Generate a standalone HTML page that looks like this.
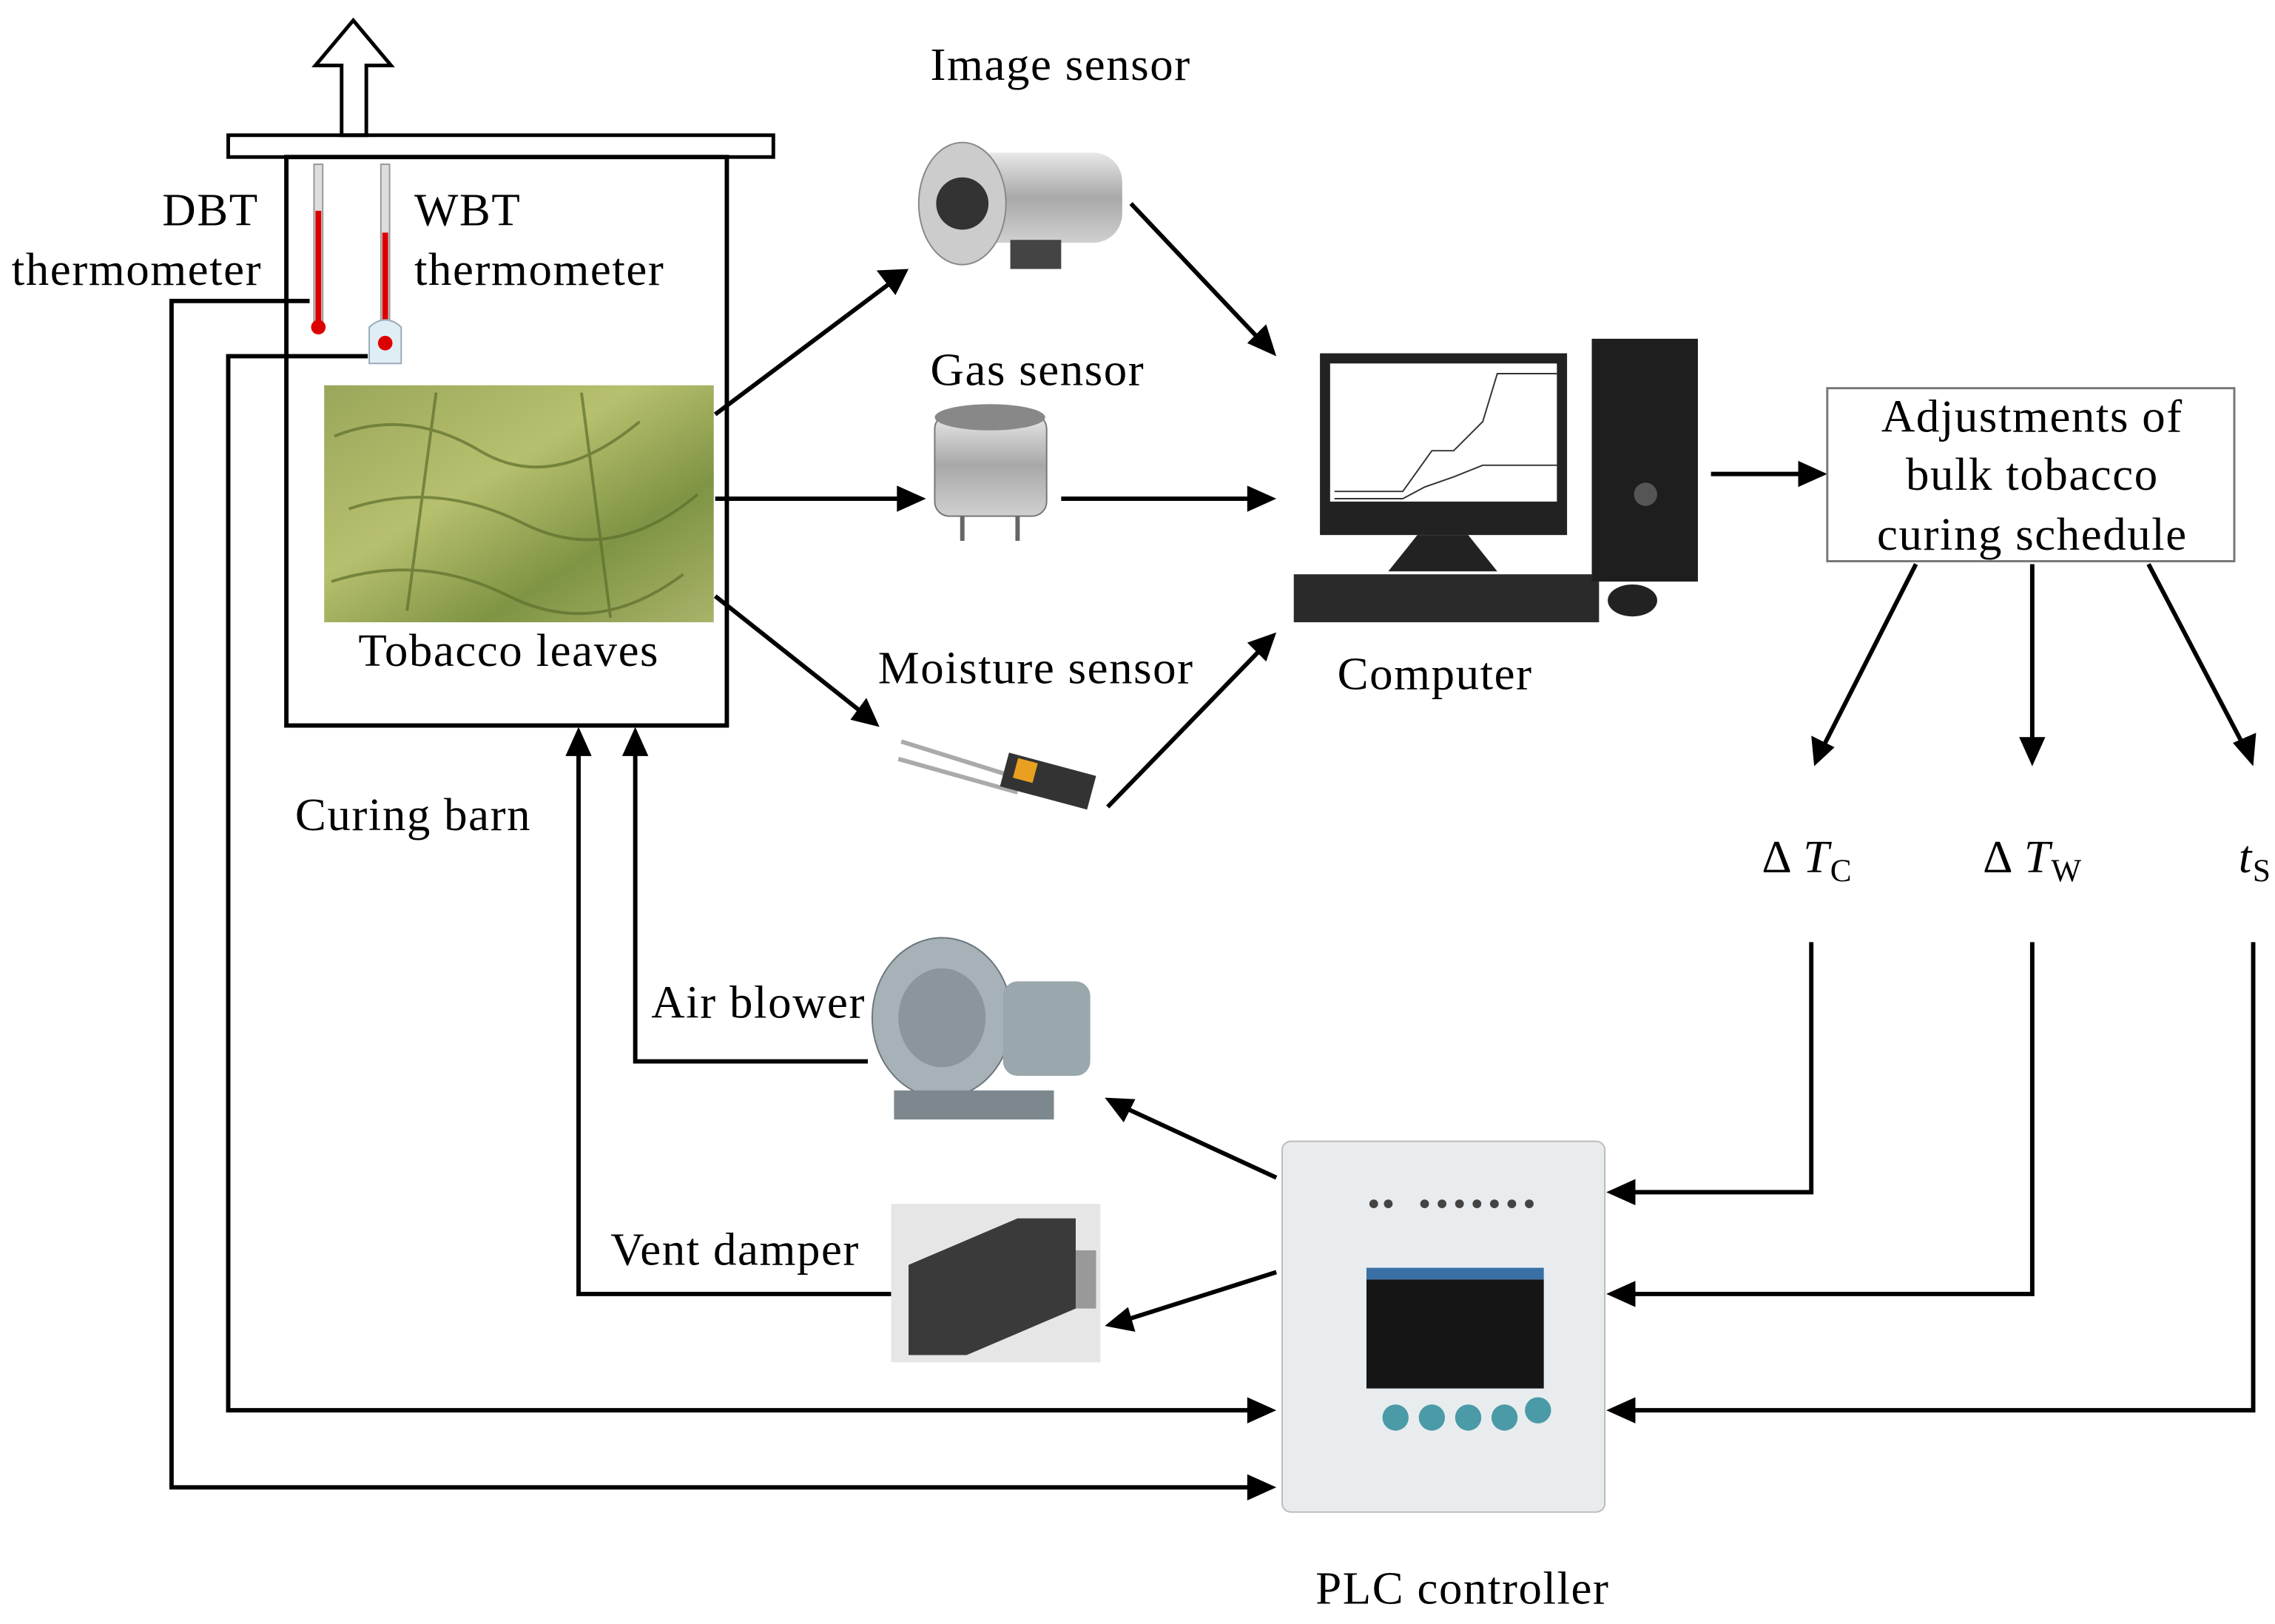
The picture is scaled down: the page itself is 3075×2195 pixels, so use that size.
<!DOCTYPE html>
<html><head><meta charset="utf-8"><style>
html,body{margin:0;padding:0;background:#fff;}
svg{display:block;}
text{font-family:"Liberation Serif",serif;font-size:32px;letter-spacing:0.8px;fill:#000;}
</style></head><body>
<svg width="3075" height="2195" viewBox="0 0 1565 1117" preserveAspectRatio="none" xmlns="http://www.w3.org/2000/svg">
<defs>
<linearGradient id="leaf" x1="0" y1="0" x2="1" y2="1">
<stop offset="0" stop-color="#9aa65a"/><stop offset="0.4" stop-color="#b7c06e"/><stop offset="0.7" stop-color="#7f9444"/><stop offset="1" stop-color="#a9b36a"/></linearGradient>
<linearGradient id="metal" x1="0" y1="0" x2="0" y2="1"><stop offset="0" stop-color="#e8e8e8"/><stop offset="0.5" stop-color="#a8a8a8"/><stop offset="1" stop-color="#d0d0d0"/></linearGradient>
</defs>
<g stroke="#000" stroke-width="3" fill="none">
<path d="M243 14 L269 45 L252 45 L252 93 L235 93 L235 45 L217 45 Z" stroke-width="2.5"/>
<rect x="157" y="93" width="375" height="15" stroke-width="2.5"/>
<rect x="197" y="108" width="303" height="391"/>
<line x1="492" y1="285" x2="612" y2="195"/>
<line x1="492" y1="343" x2="622" y2="343"/>
<line x1="492" y1="410" x2="593" y2="490"/>
<line x1="778" y1="140" x2="866" y2="233"/>
<line x1="730" y1="343" x2="864" y2="343"/>
<line x1="762" y1="555" x2="866" y2="448"/>
<line x1="1177" y1="326" x2="1243" y2="326"/>
<line x1="1318" y1="388" x2="1254" y2="514"/>
<line x1="1398" y1="388" x2="1398" y2="512"/>
<line x1="1478" y1="388" x2="1544" y2="514"/>
<polyline points="1246,648 1246,820 1120,820"/>
<polyline points="1398,648 1398,890 1120,890"/>
<polyline points="1550,648 1550,970 1120,970"/>
<line x1="878" y1="810" x2="774" y2="762"/>
<line x1="878" y1="875" x2="774" y2="908"/>
<polyline points="597,730 437,730 437,515"/>
<polyline points="613,890 398,890 398,515"/>
<polyline points="213,207 118,207 118,1023 864,1023"/>
<polyline points="253,245 157,245 157,970 864,970"/>
</g>
<g fill="#000">
<polygon points="625,185 603,186 616,203"/>
<polygon points="637,343 617,334 617,352"/>
<polygon points="605,500 596,480 585,495"/>
<polygon points="878,245 858,236 871,223"/>
<polygon points="878,343 858,334 858,352"/>
<polygon points="878,435 871,455 858,442"/>
<polygon points="1257,326 1237,317 1237,335"/>
<polygon points="1248,527 1246,506 1262,514"/>
<polygon points="1398,527 1389,507 1407,507"/>
<polygon points="1550,527 1536,511 1552,504"/>
<polygon points="1105,820 1125,811 1125,829"/>
<polygon points="1105,890 1125,881 1125,899"/>
<polygon points="1105,970 1125,961 1125,979"/>
<polygon points="760,755 781,756 773,772"/>
<polygon points="760,912 776,899 781,916"/>
<polygon points="437,500 428,520 446,520"/>
<polygon points="398,500 389,520 407,520"/>
<polygon points="878,1023 858,1014 858,1032"/>
<polygon points="878,970 858,961 858,979"/>
</g>
<rect x="216" y="113" width="6" height="108" fill="#ddd" stroke="#999"/>
<rect x="217" y="145" width="4" height="76" fill="#d00"/>
<circle cx="219" cy="225" r="5" fill="#d00"/>
<rect x="262" y="113" width="6" height="120" fill="#ddd" stroke="#999"/>
<rect x="263" y="160" width="4" height="75" fill="#d00"/>
<path d="M254 225 Q265 215 276 225 L276 250 L254 250 Z" fill="#dfeef5" stroke="#9ab"/>
<circle cx="265" cy="236" r="5" fill="#d00"/>
<rect x="223" y="265" width="268" height="163" fill="url(#leaf)"/>
<g stroke="#5d6e2c" stroke-width="2" fill="none" opacity="0.7">
<path d="M230 300 Q280 280 330 310 T440 290"/><path d="M240 350 Q300 330 360 360 T480 340"/><path d="M228 400 Q290 380 350 410 T470 395"/><path d="M300 270 L280 420"/><path d="M400 270 L420 425"/></g>
<rect x="660" y="105" width="112" height="62" rx="20" fill="url(#metal)"/>
<ellipse cx="662" cy="140" rx="30" ry="42" fill="#ccc" stroke="#888"/>
<circle cx="662" cy="140" r="18" fill="#333"/>
<rect x="695" y="165" width="35" height="20" fill="#444"/>
<rect x="643" y="285" width="77" height="70" rx="10" fill="url(#metal)" stroke="#777"/>
<ellipse cx="681" cy="287" rx="38" ry="9" fill="#888"/>
<line x1="662" y1="355" x2="662" y2="372" stroke="#666" stroke-width="3"/><line x1="700" y1="355" x2="700" y2="372" stroke="#666" stroke-width="3"/>
<line x1="620" y1="510" x2="700" y2="535" stroke="#aaa" stroke-width="3"/><line x1="618" y1="522" x2="700" y2="545" stroke="#aaa" stroke-width="3"/>
<rect x="690" y="525" width="62" height="24" fill="#333" transform="rotate(15 720 537)"/>
<rect x="697" y="527" width="14" height="14" fill="#e9a020" transform="rotate(15 720 537)"/>
<rect x="908" y="243" width="170" height="125" fill="#222"/>
<rect x="915" y="250" width="156" height="95" fill="#fff"/>
<polyline points="918,338 965,338 985,310 1000,310 1020,290 1030,257 1071,257" stroke="#333" fill="none"/>
<polyline points="918,343 965,343 980,335 1000,328 1020,320 1071,320" stroke="#333" fill="none"/>
<path d="M975 368 L1010 368 L1030 393 L955 393 Z" fill="#222"/>
<rect x="890" y="395" width="210" height="33" fill="#2a2a2a"/>
<rect x="1095" y="233" width="73" height="167" fill="#1e1e1e"/>
<circle cx="1132" cy="340" r="8" fill="#555"/>
<ellipse cx="1123" cy="413" rx="17" ry="11" fill="#222"/>
<rect x="1257" y="267" width="280" height="119" fill="#fff" stroke="#777" stroke-width="1.5"/>
<ellipse cx="648" cy="700" rx="48" ry="55" fill="#a6b2b8" stroke="#6b767b"/>
<ellipse cx="648" cy="700" rx="30" ry="34" fill="#8a969c"/>
<rect x="690" y="675" width="60" height="65" rx="10" fill="#9aa7ad"/>
<rect x="615" y="750" width="110" height="20" fill="#7d888e"/>
<rect x="613" y="828" width="144" height="109" fill="#e6e6e6"/>
<path d="M625 870 L700 838 L740 838 L740 900 L665 932 L625 932 Z" fill="#3a3a3a"/>
<rect x="740" y="860" width="14" height="40" fill="#999"/>
<rect x="882" y="785" width="222" height="255" rx="6" fill="#e9ecee" stroke="#bbb"/>
<rect x="940" y="880" width="122" height="75" fill="#151515"/>
<rect x="940" y="872" width="122" height="8" fill="#3a6fa6"/>
<g fill="#4a9aa8"><circle cx="960" cy="975" r="9"/><circle cx="985" cy="975" r="9"/><circle cx="1010" cy="975" r="9"/><circle cx="1035" cy="975" r="9"/><circle cx="1058" cy="970" r="9"/></g>
<g fill="#444"><circle cx="945" cy="828" r="3"/><circle cx="955" cy="828" r="3"/><circle cx="980" cy="828" r="3"/><circle cx="992" cy="828" r="3"/><circle cx="1004" cy="828" r="3"/><circle cx="1016" cy="828" r="3"/><circle cx="1028" cy="828" r="3"/><circle cx="1040" cy="828" r="3"/><circle cx="1052" cy="828" r="3"/></g>
<text x="640" y="55">Image sensor</text>
<text x="640" y="265">Gas sensor</text>
<text x="604" y="470">Moisture sensor</text>
<text x="178" y="155" text-anchor="end">DBT</text>
<text x="8" y="196">thermometer</text>
<text x="285" y="155">WBT</text>
<text x="285" y="196">thermometer</text>
<text x="350" y="458" text-anchor="middle">Tobacco leaves</text>
<text x="203" y="571">Curing barn</text>
<text x="920" y="474">Computer</text>
<text x="1398" y="297" text-anchor="middle">Adjustments of</text>
<text x="1398" y="337" text-anchor="middle">bulk tobacco</text>
<text x="1398" y="378" text-anchor="middle">curing schedule</text>
<text x="1212" y="600" font-size="24">Δ <tspan font-style="italic" font-size="32">T</tspan><tspan font-size="22" dy="6">C</tspan></text>
<text x="1364" y="600" font-size="24">Δ <tspan font-style="italic" font-size="32">T</tspan><tspan font-size="22" dy="6">W</tspan></text>
<text x="1540" y="600" font-style="italic">t<tspan font-style="normal" font-size="22" dy="6">S</tspan></text>
<text x="448" y="700">Air blower</text>
<text x="420" y="870">Vent damper</text>
<text x="905" y="1103">PLC controller</text>
</svg>
</body></html>
